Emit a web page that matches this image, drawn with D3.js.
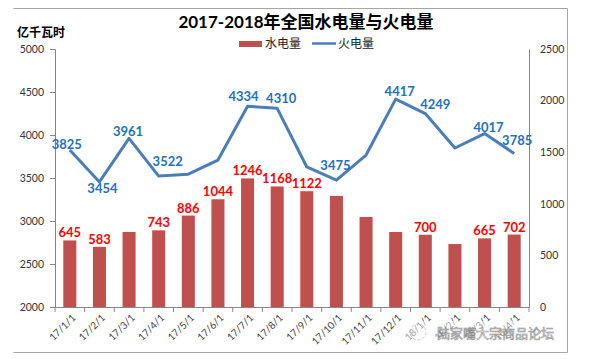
<!DOCTYPE html>
<html><head><meta charset="utf-8">
<script src="https://cdn.jsdelivr.net/npm/d3@7"></script>
<style>
body{margin:0;background:#fff;}
svg{display:block;}
text{font-family:Lato,"Noto Sans CJK SC",sans-serif;}
</style></head>
<body><svg id="c" width="604" height="359"></svg>
<script>
const categories = ["17/1/1","17/2/1","17/3/1","17/4/1","17/5/1","17/6/1","17/7/1","17/8/1","17/9/1","17/10/1","17/11/1","17/12/1","18/1/1","18/2/1","18/3/1","18/4/1"];
const hydro   = [645,583,727,743,886,1044,1246,1168,1122,1076,872,727,700,610,665,702];
const thermal = [3825,3454,3961,3522,3545,3709,4334,4310,3628,3475,3767,4417,4249,3849,4017,3785];
const leftTicks  = [2000,2500,3000,3500,4000,4500,5000];
const rightTicks = [0,500,1000,1500,2000,2500];
const hydroLabelIdx   = [0,1,3,4,5,6,7,8,12,14,15];
const thermalLabelIdx = [0,1,2,3,6,7,9,11,12,14,15];
// label nudges [dx, dy] relative to the point (style only)
const thermalNudge = {0:[-3,-1],1:[3,11],2:[-1,-2],3:[9,-10],6:[-4,-5],7:[4,-5],9:[-1,-10],11:[4,-3],12:[10,-5],14:[4,-2],15:[3,-8]};

const svg = d3.select("#c");
const L = 55, R = 529, T = 49, B = 307;

const x = d3.scaleBand().domain(categories).range([L, R]).paddingInner(0.56).paddingOuter(0.28);
const yL = d3.scaleLinear().domain([2000,5000]).range([B, T]);
const yR = d3.scaleLinear().domain([0,2500]).range([B, T]);
const cx = d => x(d) + x.bandwidth()/2;

// outer border (top, right, bottom)
svg.append("path").attr("d","M13.5,8.5H567.5V352.5H13.5").attr("fill","none").attr("stroke","#a6a6a6").attr("stroke-width",1);

// title
svg.append("text").attr("x",306).attr("y",28).attr("text-anchor","middle")
  .attr("font-size",17).attr("font-weight","bold").attr("fill","#000")
  .text("2017-2018年全国水电量与火电量");
svg.append("text").attr("x",17).attr("y",37).attr("font-size",12).attr("font-weight","bold").attr("fill","#000")
  .attr("font-family","'Noto Sans CJK SC'").text("亿千瓦时");

// legend
svg.append("rect").attr("x",239).attr("y",41).attr("width",23).attr("height",6).attr("fill","#C0504D");
svg.append("text").attr("x",265).attr("y",47.5).attr("font-size",12).attr("fill","#222").attr("font-family","'Noto Sans CJK SC'").text("水电量");
svg.append("line").attr("x1",312).attr("x2",336).attr("y1",43.5).attr("y2",43.5).attr("stroke","#4A7EBB").attr("stroke-width",2.5);
svg.append("text").attr("x",338).attr("y",47.5).attr("font-size",12).attr("fill","#222").attr("font-family","'Noto Sans CJK SC'").text("火电量");

// left axis
const gL = svg.append("g").attr("transform",`translate(${L},0)`)
  .call(d3.axisLeft(yL).tickValues(leftTicks).tickSize(5).tickPadding(6).tickFormat(d3.format("d")));
// right axis
const gR = svg.append("g").attr("transform",`translate(${R},0)`)
  .call(d3.axisRight(yR).tickValues(rightTicks).tickSize(0).tickPadding(11).tickFormat(d3.format("d")));
[gL,gR].forEach(g=>{
  g.select(".domain").attr("stroke","#868686");
  g.selectAll(".tick line").attr("stroke","#868686");
  g.selectAll(".tick text").attr("font-size",10.5).attr("fill","#333").attr("font-family","Lato");
});

// bars
svg.append("g").selectAll("rect").data(hydro).join("rect")
  .attr("x",(d,i)=>x(categories[i])).attr("width",x.bandwidth())
  .attr("y",d=>yR(d)).attr("height",d=>B-yR(d)).attr("fill","#C0504D");

// x axis
const gX = svg.append("g").attr("transform",`translate(0,${B})`)
  .call(d3.axisBottom(x).tickSize(0).tickFormat(""));
gX.select(".domain").attr("stroke","#868686");
// boundary ticks
const bounds = categories.map(c=>x(c)-x.step()*x.paddingInner()/2).concat([R]);
svg.append("g").selectAll("line").data(bounds).join("line")
  .attr("x1",d=>d).attr("x2",d=>d).attr("y1",B).attr("y2",B+5).attr("stroke","#868686");
svg.append("g").selectAll("text").data(categories).join("text")
  .attr("transform",d=>`translate(${cx(d)+4},${B+9}) rotate(-45)`)
  .attr("text-anchor","end").attr("dy","0.35em").attr("font-size",10).attr("fill","#404040").text(d=>d);

// line
const line = d3.line().x((d,i)=>cx(categories[i])).y(d=>yL(d));
svg.append("path").datum(thermal).attr("d",line).attr("fill","none")
  .attr("stroke","#4A7EBB").attr("stroke-width",3).attr("stroke-linejoin","round");

// bar labels
svg.append("g").selectAll("text").data(hydroLabelIdx).join("text")
  .attr("x",i=>cx(categories[i])).attr("y",i=>yR(hydro[i])-3)
  .attr("text-anchor","middle").attr("font-size",13).attr("font-weight","bold").attr("fill","#FF0000")
  .text(i=>hydro[i]);

// line labels
svg.append("g").selectAll("text").data(thermalLabelIdx).join("text")
  .attr("x",i=>cx(categories[i])+thermalNudge[i][0]).attr("y",i=>yL(thermal[i])+thermalNudge[i][1])
  .attr("text-anchor","middle").attr("font-size",13).attr("font-weight","bold").attr("fill","#1E70C0")
  .text(i=>thermal[i]);

// watermark
const wm = svg.append("g").attr("opacity",0.85);
wm.append("rect").attr("x",404).attr("y",321).attr("width",154).attr("height",22).attr("fill","#fff").attr("opacity",0.6);
wm.append("circle").attr("cx",418).attr("cy",332).attr("r",8).attr("fill","none").attr("stroke","#bbb").attr("stroke-dasharray","3,2");
wm.append("text").attr("x",437).attr("y",337.5).attr("font-size",13).attr("font-family","'Noto Sans CJK SC'")
  .attr("fill","#fff").attr("stroke","#8a8a8a").attr("stroke-width",0.7).text("陆家嘴大宗商品论坛");
</script></body></html>
